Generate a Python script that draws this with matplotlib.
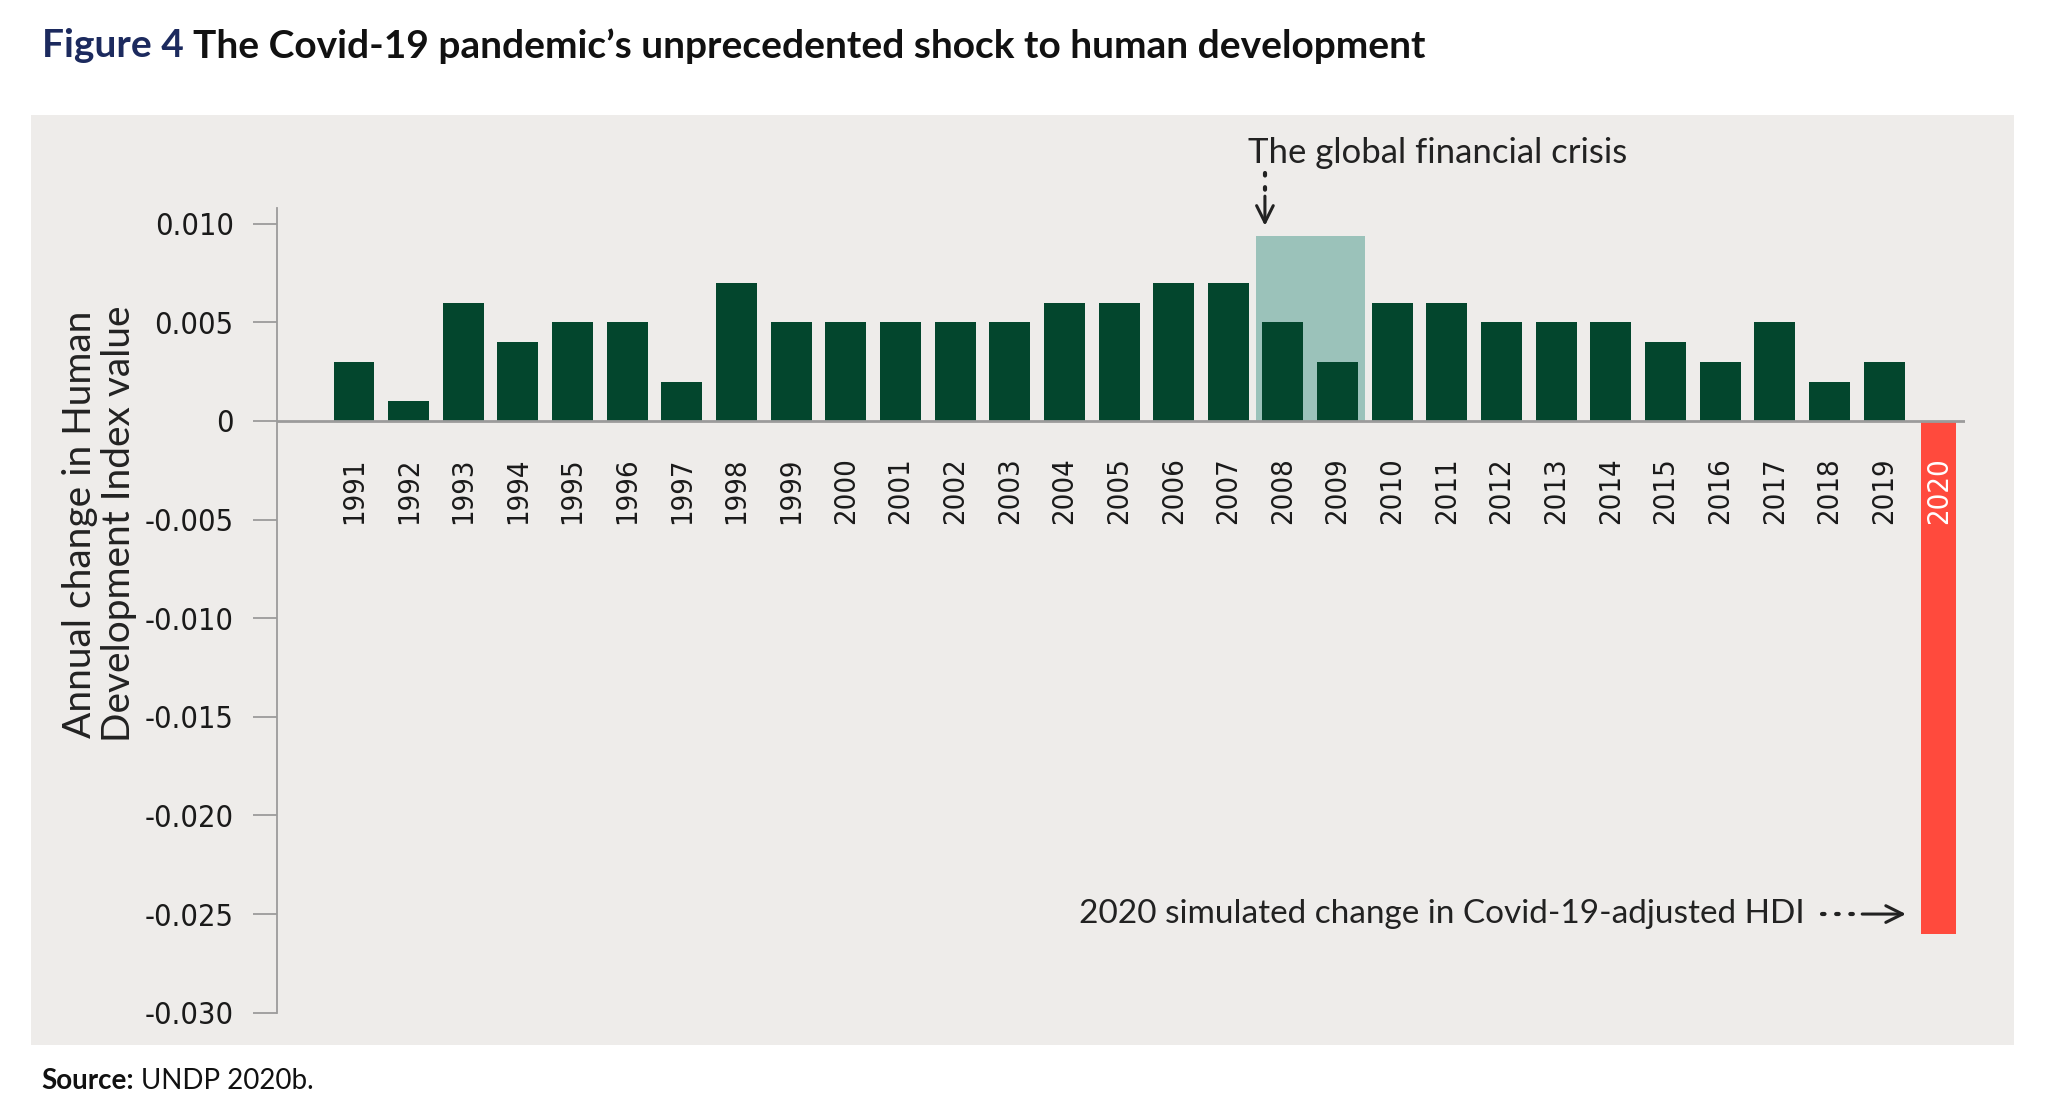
import matplotlib.pyplot as plt
from matplotlib import font_manager
from matplotlib.patches import Rectangle

years = list(range(1991, 2021))
changes = [0.003, 0.001, 0.006, 0.004, 0.005, 0.005, 0.002, 0.007, 0.005, 0.005,
           0.005, 0.005, 0.005, 0.006, 0.006, 0.007, 0.007, 0.005, 0.003, 0.006,
           0.006, 0.005, 0.005, 0.005, 0.004, 0.003, 0.005, 0.002, 0.003, -0.026]
crisis_years = [2008, 2009]
crisis_top = 0.0094
yticks = [0.010, 0.005, 0, -0.005, -0.010, -0.015, -0.020, -0.025, -0.030]
ytick_labels = ["0.010", "0.005", "0", "-0.005", "-0.010", "-0.015", "-0.020", "-0.025", "-0.030"]

green = "#03462D"
red = "#FF4A3D"
shade = "#9BC2BA"
panel = "#EEECEA"
grey = "#9B9B9B"
plain = ["Lato", "DejaVu Sans"]

# narrow face for the numbers, whichever one is around
fonts = font_manager.fontManager.ttflist
names = {f.name for f in fonts}
if "Liberation Sans Narrow" in names:
    num_font = dict(family=["Liberation Sans Narrow", "DejaVu Sans"])
elif any(f.name == "DejaVu Sans" and f.stretch == "condensed" for f in fonts):
    num_font = dict(family=["DejaVu Sans"], stretch="condensed")
else:
    num_font = dict(family=["Roboto", "DejaVu Sans"])

fig = plt.figure(figsize=(20.48, 11.17), dpi=100)
fig.patches.append(Rectangle((0.0151, 0.0645), 0.9683, 0.8325, transform=fig.transFigure,
                             facecolor=panel, edgecolor="none", zorder=-5))

ax = fig.add_axes([0.1351, 0.0934, 0.8246, 0.7204])
ax.set_facecolor("none")

x = list(range(len(years)))
colors = [red if y == 2020 else green for y in years]
widths = [0.65 if y == 2020 else 0.75 for y in years]

# shaded block behind the crisis years
i0 = years.index(crisis_years[0])
i1 = years.index(crisis_years[-1])
ax.add_patch(Rectangle((i0 - 0.5, 0), i1 - i0 + 1, crisis_top, facecolor=shade,
                       edgecolor="none", zorder=1))

ax.bar(x, changes, width=widths, color=colors, zorder=2)

ax.set_xlim(-1.415, 29.49)
ax.set_ylim(-0.030, 0.0108)
ax.axhline(0, color=grey, lw=2, zorder=3)

for sp in ["top", "right", "bottom"]:
    ax.spines[sp].set_visible(False)
ax.spines["left"].set_color(grey)
ax.spines["left"].set_linewidth(1.3)
ax.spines["left"].set_bounds(-0.030, 0.0108)

ax.set_xticks([])
ax.set_yticks(yticks)
ax.set_yticklabels(ytick_labels, fontsize=22, color="#1a1a1a", **num_font)
ax.tick_params(axis="y", length=17, width=1.3, color=grey, pad=14)

for i, y in enumerate(years):
    ax.annotate(str(y), (i, 0), xytext=(0, -26), textcoords="offset points",
                rotation=90, ha="center", va="top", fontsize=21,
                color="white" if y == 2020 else "#1a1a1a", zorder=4, **num_font)

ax.set_ylabel("Annual change in Human\nDevelopment Index value", fontsize=28,
              family=plain, color="#222222", linespacing=1.1)
ax.yaxis.set_label_coords(-0.083, 0.607)

# global financial crisis note
ax.text(i0 - 0.64, 0.01309, "The global financial crisis", fontsize=25, family=plain,
        color="#222222", ha="left", va="baseline")
ax.plot([i0 - 0.33, i0 - 0.33], [0.01255, 0.0113], ls=(0, (0.6, 2.8)), lw=3,
        color="#222222", clip_on=False, dash_capstyle="round")
ax.annotate("", xy=(i0 - 0.33, 0.0099), xytext=(i0 - 0.33, 0.0114),
            arrowprops=dict(arrowstyle="->", lw=2.2, color="#222222",
                            mutation_scale=30, shrinkA=0, shrinkB=0),
            annotation_clip=False)

# 2020 note
i20 = years.index(2020)
ax.text(i20 - 2.46, -0.025, "2020 simulated change in Covid-19-adjusted HDI",
        fontsize=24, family=plain, color="#222222", ha="right", va="center")
ax.plot([i20 - 2.13, i20 - 1.4], [-0.025, -0.025], ls=(0, (0.6, 2.8)), lw=3,
        color="#222222", dash_capstyle="round")
ax.annotate("", xy=(i20 - 0.6, -0.025), xytext=(i20 - 1.4, -0.025),
            arrowprops=dict(arrowstyle="->", lw=2.2, color="#222222",
                            mutation_scale=30, shrinkA=0, shrinkB=0))

t1 = fig.text(0.0205, 0.959, "Figure 4", fontsize=28, fontweight="bold", family=plain,
              color="#1C2A5E", va="center")
ax.annotate("The Covid-19 pandemic\u2019s unprecedented shock to human development",
            xy=(1, 0.5), xycoords=t1, xytext=(7, 0), textcoords="offset points",
            fontsize=28, fontweight="bold", family=plain, color="#111111",
            va="center", annotation_clip=False)

s1 = fig.text(0.0200, 0.032, "Source:", fontsize=20, fontweight="bold", family=plain,
              color="#111111", va="center")
ax.annotate("UNDP 2020b.", xy=(1, 0.5), xycoords=s1, xytext=(5, 0),
            textcoords="offset points", fontsize=20, family=plain, color="#111111",
            va="center", annotation_clip=False)

fig.savefig("out.png", dpi=100, facecolor="white")
